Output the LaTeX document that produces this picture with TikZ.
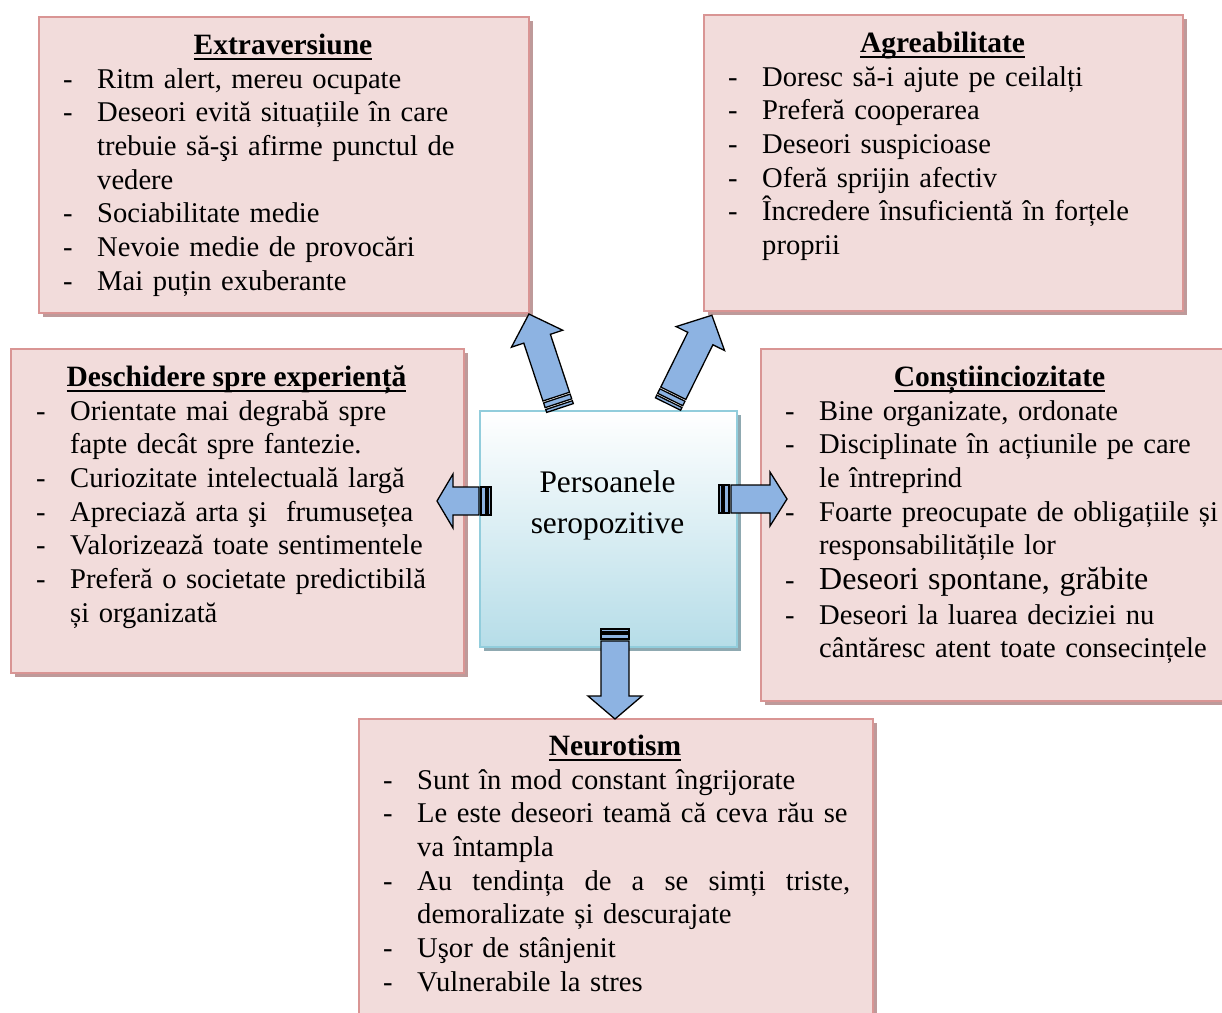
\documentclass[tikz,border=0pt]{standalone}
\usepackage{fontspec}
\setmainfont{Liberation Serif}
\usetikzlibrary{shadows}
\definecolor{pinkfill}{HTML}{F2DCDB}
\definecolor{pinkborder}{HTML}{D99594}
\definecolor{pinkshadow}{HTML}{BE9A9A}
\definecolor{bluefill}{HTML}{B6DDE8}
\definecolor{blueborder}{HTML}{92CDDC}
\definecolor{blueshadow}{HTML}{8FA9B1}
\definecolor{arrowfill}{HTML}{8DB3E2}
\newcommand\dsh{\makebox[34pt][l]{-}}
\newcommand\ind{\hspace*{34pt}}
\newcommand\undl[1]{\setbox0\hbox{#1}\rlap{\rule[-5.5pt]{\wd0}{1.6pt}}\box0}
\newcommand\stripedarrow[4]{%
  \begin{scope}[shift={(#1)},rotate=#2]
    \draw[arrowstyle] (0,-14) rectangle (3,14);
    \draw[arrowstyle] (5,-14) rectangle (10,14);
    \draw[arrowstyle] (12,-14) -- ({#3-#4},-14) -- ({#3-#4},-27) -- (#3,0)
      -- ({#3-#4},27) -- ({#3-#4},14) -- (12,14) -- cycle;
  \end{scope}}
\tikzset{
  pinkbox/.style={draw=pinkborder, line width=2pt, fill=pinkfill, anchor=north west,
    inner sep=0pt, drop shadow={shadow xshift=4pt, shadow yshift=-4pt, fill=pinkshadow, opacity=1}},
  centerbox/.style={draw=blueborder, line width=2pt, top color=white, bottom color=bluefill,
    anchor=north west, inner sep=0pt,
    drop shadow={shadow xshift=4pt, shadow yshift=-4pt, fill=blueshadow, opacity=1}},
  titlestyle/.style={font=\fontsize{29.5}{33.7}\selectfont\bfseries, anchor=base, inner sep=0pt},
  itemstyle/.style={font=\fontsize{28.6}{33.7}\selectfont, anchor=base west, inner sep=0pt,
    align=left, text width=#1},
  arrowstyle/.style={draw=black, line width=1.3pt, fill=arrowfill, line join=miter},
}
\begin{document}
\begin{tikzpicture}[x=1pt,y=-1pt]
\useasboundingbox (0,0) rectangle (1222,1012);
% boxes
\node[pinkbox, minimum width=490, minimum height=296] (b1) at (38,16) {};
\node[pinkbox, minimum width=479, minimum height=296] (b2) at (703,14) {};
\node[pinkbox, minimum width=453, minimum height=324] (b3) at (10,348) {};
\node[pinkbox, minimum width=479, minimum height=352] (b4) at (760,348) {};
\node[pinkbox, minimum width=514, minimum height=320] (b5) at (358,718) {};
\node[centerbox, minimum width=257, minimum height=236] (c) at (479,410) {};
% center text
\node[font=\fontsize{31.4}{41}\selectfont, anchor=base, inner sep=0pt, align=center, text width=250]
  (ct) at (607.5,492) {Persoanele\\seropozitive};
% box 1
\node[titlestyle] (t1) at (283,54) {\undl{Extraversiune}};
\node[itemstyle=470] (i1) at (63,88) {%
\dsh Ritm alert, mereu ocupate\\
\dsh Deseori evită situațiile în care\\
\ind trebuie să-şi afirme punctul de\\
\ind vedere\\
\dsh Sociabilitate medie\\
\dsh Nevoie medie de provocări\\
\dsh Mai puțin exuberante};
% box 2
\node[titlestyle] (t2) at (942.5,52) {\undl{Agreabilitate}};
\node[itemstyle=460] (i2) at (728,86) {%
\dsh Doresc să-i ajute pe ceilalți\\
\dsh Preferă cooperarea\\
\dsh Deseori suspicioase\\
\dsh Oferă sprijin afectiv\\
\dsh Încredere însuficientă în forțele\\
\ind proprii};
% box 3
\node[titlestyle] (t3) at (236.5,386) {\undl{Deschidere spre experiență}};
\node[itemstyle=440] (i3) at (36,420) {%
\dsh Orientate mai degrabă spre\\
\ind fapte decât spre fantezie.\\
\dsh Curiozitate intelectuală largă\\
\dsh Apreciază arta şi\ \ frumusețea\\
\dsh Valorizează toate sentimentele\\
\dsh Preferă o societate predictibilă\\
\ind și organizată};
% box 4
\node[titlestyle] (t4) at (999.5,386.5) {\undl{Conștiinciozitate}};
\node[itemstyle=460] (i4) at (785,420) {%
\dsh Bine organizate, ordonate\\
\dsh Disciplinate în acțiunile pe care\\
\ind le întreprind\\
\dsh Foarte preocupate de obligațiile și\\
\ind responsabilitățile lor\\[1pt]
\dsh {\fontsize{32}{35}\selectfont Deseori spontane, grăbite}\\[1pt]
\dsh Deseori la luarea deciziei nu\\
\ind cântăresc atent toate consecințele};
% box 5
\node[titlestyle] (t5) at (615,755) {\undl{Neurotism}};
\node[itemstyle=480] (i5) at (383,789) {%
\dsh Sunt în mod constant îngrijorate\\
\dsh Le este deseori teamă că ceva rău se\\
\ind va întampla\\
\dsh \hbox to 433pt{Au\hfill tendința\hfill de\hfill a\hfill se\hfill simți\hfill triste,}\\
\ind demoralizate și descurajate\\
\dsh Uşor de stânjenit\\
\dsh Vulnerabile la stres};
% arrows
\coordinate (aUL) at (560,408);
\coordinate (aUR) at (668,404);
\coordinate (aL) at (491,501);
\coordinate (aR) at (719,499);
\coordinate (aD) at (615,629);
\stripedarrow{aUL}{108.3}{99}{26}
\stripedarrow{aUR}{63.7}{99}{26}
\stripedarrow{aL}{180}{54}{16}
\stripedarrow{aR}{0}{68}{17}
\stripedarrow{aD}{-90}{90}{23}
\end{tikzpicture}
\end{document}
